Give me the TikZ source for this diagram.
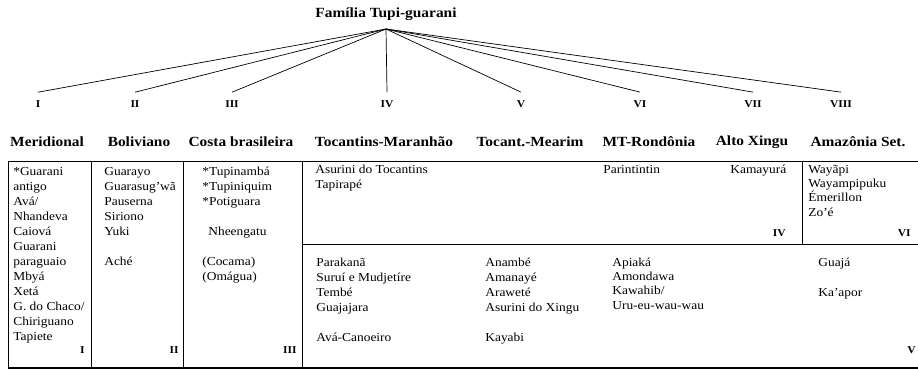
\documentclass[tikz,border=0pt]{standalone}
\usepackage{fontspec}
\setmainfont{Liberation Serif}[FakeStretch=1.1]
\usetikzlibrary{calc}

\begin{document}
\begin{tikzpicture}[x=1pt,y=-1pt, line width=0.7pt, every node/.style={inner sep=0pt},
    head/.style={font=\bfseries\fontsize{14}{14}\selectfont},
    num/.style={font=\bfseries\fontsize{10.5}{10.5}\selectfont},
    lang/.style={font=\fontsize{12.2}{15}\selectfont, align=left, anchor=north west},
    close/.style={lang, font=\fontsize{12.2}{14.3}\selectfont}]

\useasboundingbox (0,0) rectangle (918,369);

\node[head] (fam) at (386,14) {Família Tupi-guarani};
\coordinate (top) at (386,29);

\foreach \n/\x/\r in {1/38/I, 2/135/II, 3/232/III, 4/387/IV, 5/521/V, 6/640/VI, 7/753/VII, 8/841/VIII}
{
  \node[num, inner sep=8pt] (g\n) at (\x,104) {\r};
  \draw (top) -- (g\n.north);
}

 \node[head] (h1) at (47,142) {Meridional};
 \node[head] (h2) at (139,142) {Boliviano};
 \node[head] (h3) at (241,142) {Costa brasileira};
 \node[head] (h4) at (384,142) {Tocantins-Maranhão};
 \node[head] (h5) at (530,142) {Tocant.-Mearim};
 \node[head] (h6) at (649,142) {MT-Rondônia};
 \node[head] (h7) at (752,142) {Alto Xingu};
 \node[head] (h8) at (858,142) {Amazônia Set.};

% table frame
\draw (8,161) -- (918,161);
\draw[line width=1.2pt] (8,368) -- (918,368);
\draw (8,161) -- (8,368);
\draw (91,161) -- (91,368);
\draw (183,161) -- (183,368);
\draw (302,161) -- (302,368);
\draw (302,244) -- (918,244);
\draw (802,161) -- (802,244);

\node[lang] (t1) at (13,165) {\strut *Guarani\\antigo\\Avá/\\Nhandeva\\Caiová\\Guarani\\paraguaio\\Mbyá\\Xetá\\G. do Chaco/\\Chiriguano\\Tapiete};
\node[lang] (t2) at (104,165) {\strut Guarayo\\Guarasug’wã\\Pauserna\\Siriono\\Yuki\\[15pt]Aché};
\node[lang] (t3) at (202,165) {\strut *Tupinambá\\*Tupiniquim\\*Potiguara\\[15pt]\hspace{6pt}Nheengatu\\[15pt](Cocama)\\(Omágua)};

\node[lang] (t4) at (315,163) {\strut Asurini do Tocantins\\Tapirapé};
\node[lang] (t6) at (603,163) {\strut Parintintin};
\node[lang] (t7) at (730,163) {\strut Kamayurá};
\node[close] (t8) at (808,163) {\strut Wayãpi\\Wayampipuku\\Émerillon\\Zo’é};

\node[lang] (b4) at (316,256) {\strut Parakanã\\Suruí e Mudjetíre\\Tembé\\Guajajara\\[15pt]Avá-Canoeiro};
\node[lang] (b5) at (485,256) {\strut Anambé\\Amanayé\\Araweté\\Asurini do Xingu\\[15pt]Kayabi};
\node[close] (b6) at (612,256) {\strut Apiaká\\Amondawa\\Kawahib/\\Uru-eu-wau-wau};
\node[lang] (b8) at (818,256) {\strut Guajá\\[15pt]Ka’apor};

\node[num, anchor=east] (n1) at (85,350) {I};
\node[num, anchor=east] (n2) at (179,350) {II};
\node[num, anchor=east] (n3) at (297,350) {III};
\node[num, anchor=east] (n4) at (786,233) {IV};
\node[num, anchor=east] (n6) at (911,233) {VI};
\node[num, anchor=east] (n5) at (916,350) {V};
\end{tikzpicture}
\end{document}
